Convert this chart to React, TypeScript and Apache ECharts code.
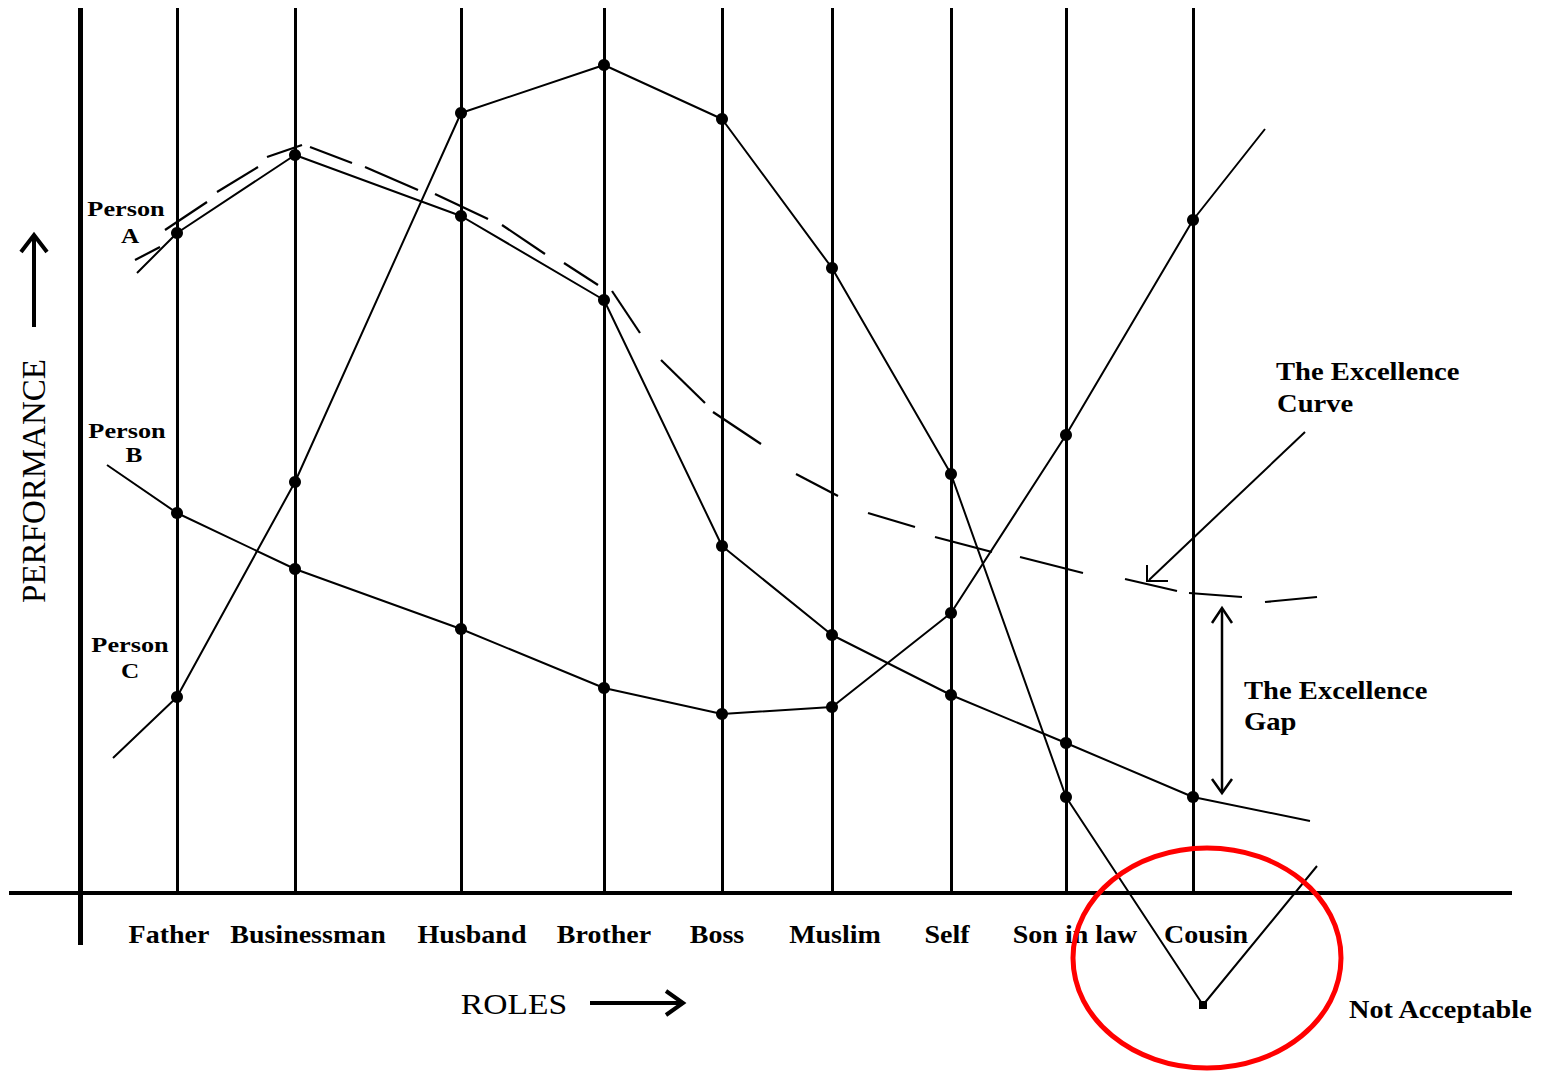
import React, { useEffect, useRef } from "react";
import * as echarts from "echarts";

// ---------------- DATA (x = role position, y = performance) ----------------
const roles = ["Father", "Businessman", "Husband", "Brother", "Boss", "Muslim", "Self", "Son in law", "Cousin"];
const roleX = [17.7, 29.5, 46.1, 60.4, 72.2, 83.2, 95.1, 106.6, 119.3];

const personA = [66.0, 73.8, 67.7, 59.3, 34.7, 25.8, 19.8, 15.0, 9.6];
const personAStart = [13.7, 62.0];
const personAEnd = [131.0, 7.2];

const personB = [38.0, 32.4, 26.4, 20.5, 17.9, 18.6, 28.0, 45.8, 67.3];
const personBStart = [10.7, 42.8];
const personBEnd = [126.5, 76.4];

const personC = [19.6, 41.1, 78.0, 82.8, 77.4, 62.5, 41.9, 9.6];
const personCStart = [11.3, 13.5];
const notAcceptablePoint = [120.3, -11.2];
const personCEnd = [131.7, 2.7];

// the hand-drawn dashes of "The Excellence Curve"
const excellenceDashes = [
  [[13.5, 63.3], [16.0, 64.6]],
  [[16.5, 66.3], [20.7, 69.1]],
  [[21.7, 70.1], [25.8, 72.6]],
  [[26.7, 73.6], [30.2, 74.8]],
  [[31.0, 74.6], [35.2, 73.0]],
  [[36.5, 72.6], [41.8, 70.3]],
  [[43.5, 69.9], [48.8, 67.4]],
  [[50.2, 66.8], [54.5, 63.9]],
  [[56.4, 63.0], [59.8, 60.8]],
  [[61.2, 60.2], [64.0, 56.0]],
  [[66.1, 53.3], [70.5, 49.0]],
  [[71.3, 48.1], [76.1, 44.9]],
  [[79.6, 41.9], [83.8, 39.7]],
  [[86.8, 38.0], [91.5, 36.6]],
  [[93.5, 35.6], [99.2, 34.1]],
  [[102.0, 33.6], [108.3, 32.0]],
  [[112.5, 31.4], [117.7, 30.2]],
  [[118.9, 30.0], [124.2, 29.6]],
  [[126.5, 29.1], [131.7, 29.6]],
];

// ---------------- LAYOUT ----------------
const W = 1543;
const H = 1073;
const X_MAX = 154.3;
const Y_MIN = -18.0;
const Y_MAX = 89.3;
const ROLE_TOP = 88.5;
const AXIS_X = 8.0;
const AXIS_BOTTOM = -5.2;
const BASE_START = 0.9;
const BASE_END = 151.2;
const labelNudge = [-8, 13, 11, 0, -5, 3, -4, 9, 13];

const px = (x: number) => (x / X_MAX) * W;

const FONT = '"Liberation Serif", "Times New Roman", serif';

function txt(text: string, x: number, y: number, size: number, bold: boolean, align: string, sx = 1, rot = 0) {
  return {
    type: "text",
    x,
    y,
    scaleX: sx,
    rotation: rot,
    silent: true,
    style: {
      text,
      font: `${bold ? "bold " : ""}${size}px ${FONT}`,
      fill: "#000",
      align,
      verticalAlign: "middle",
      textAlign: align,
      textVerticalAlign: "middle",
    },
  };
}

function poly(points: number[][], w: number) {
  return {
    type: "polyline",
    silent: true,
    shape: { points },
    style: { stroke: "#000", lineWidth: w, fill: "none", lineJoin: "miter", lineCap: "butt" },
  };
}

function personSeries(name: string, start: number[], vals: number[], tail: any[], end: number[]) {
  const data: any[] = [{ value: start, symbol: "none" }];
  vals.forEach((v, i) => data.push({ value: [roleX[i], v] }));
  tail.forEach((t) => data.push(t));
  data.push({ value: end, symbol: "none" });
  return {
    name,
    type: "line",
    data,
    symbol: "circle",
    symbolSize: 12,
    itemStyle: { color: "#000" },
    lineStyle: { color: "#000", width: 2 },
    z: 5,
    silent: true,
  };
}

export default function App() {
  const ref = useRef<HTMLDivElement>(null);

  useEffect(() => {
    if (!ref.current) return;
    const chart = echarts.init(ref.current, null, { renderer: "svg", width: W, height: H });

    const graphics: any[] = [
      // labels for the persons
      txt("Person", 126, 209, 21, true, "center", 1.25),
      txt("A", 130, 236, 21, true, "center", 1.2),
      txt("Person", 127, 431, 21, true, "center", 1.25),
      txt("B", 134, 455, 21, true, "center", 1.2),
      txt("Person", 130, 645, 21, true, "center", 1.25),
      txt("C", 130, 671, 21, true, "center", 1.2),
      // axis titles
      txt("PERFORMANCE", 34, 481, 33, false, "center", 1, Math.PI / 2),
      txt("ROLES", 514, 1004, 30, false, "center", 1.12),
      // annotations
      txt("The Excellence", 1276, 371, 26, true, "left", 1.1),
      txt("Curve", 1277, 403, 26, true, "left", 1.1),
      txt("The Excellence", 1244, 690, 26, true, "left", 1.1),
      txt("Gap", 1244, 721, 26, true, "left", 1.1),
      txt("Not Acceptable", 1349, 1010, 25, true, "left", 1.13),
      // arrows
      poly([[34, 327], [34, 238]], 4),
      poly([[21, 252], [34, 235], [47, 252]], 4),
      poly([[590, 1003], [681, 1003]], 4),
      poly([[666, 991], [683, 1003], [666, 1015]], 4),
      poly([[1305, 432], [1149, 580]], 2),
      poly([[1147, 565], [1147, 581], [1168, 581]], 2),
      poly([[1222, 609], [1222, 791]], 2.5),
      poly([[1212, 623], [1222, 608], [1232, 623]], 2.5),
      poly([[1212, 779], [1222, 793], [1232, 779]], 2.5),
      {
        type: "ellipse",
        silent: true,
        shape: { cx: 1207, cy: 958, rx: 134, ry: 110 },
        style: { fill: "none", stroke: "#ff0000", lineWidth: 5 },
        z: 100,
      },
    ];
    roles.forEach((r, i) => {
      graphics.push(txt(r, px(roleX[i]) + labelNudge[i], 935, 25, true, "center", 1.12));
    });

    const option: any = {
      animation: false,
      backgroundColor: "#ffffff",
      grid: { left: 0, right: 0, top: 0, bottom: 0, containLabel: false },
      xAxis: { type: "value", min: 0, max: X_MAX, show: false },
      yAxis: { type: "value", min: Y_MIN, max: Y_MAX, show: false },
      graphic: graphics,
      series: [
        {
          type: "lines",
          coordinateSystem: "cartesian2d",
          silent: true,
          lineStyle: { color: "#000", width: 3, opacity: 1 },
          data: roleX.map((x) => ({ coords: [[x, 0], [x, ROLE_TOP]] })),
          z: 2,
        },
        {
          type: "lines",
          coordinateSystem: "cartesian2d",
          silent: true,
          lineStyle: { color: "#000", width: 4, opacity: 1 },
          data: [{ coords: [[BASE_START, 0], [BASE_END, 0]] }],
          z: 3,
        },
        {
          type: "lines",
          coordinateSystem: "cartesian2d",
          silent: true,
          lineStyle: { color: "#000", width: 5, opacity: 1 },
          data: [{ coords: [[AXIS_X, ROLE_TOP], [AXIS_X, AXIS_BOTTOM]] }],
          z: 3,
        },
        {
          name: "The Excellence Curve",
          type: "lines",
          coordinateSystem: "cartesian2d",
          silent: true,
          lineStyle: { color: "#000", width: 2.2, opacity: 1 },
          data: excellenceDashes.map((d) => ({ coords: d })),
          z: 4,
        },
        personSeries("Person A", personAStart, personA, [], personAEnd),
        personSeries("Person B", personBStart, personB, [], personBEnd),
        personSeries(
          "Person C",
          personCStart,
          personC,
          [{ value: notAcceptablePoint, symbol: "rect", symbolSize: 8 }],
          personCEnd
        ),
      ],
    };

    chart.setOption(option);
    return () => chart.dispose();
  }, []);

  return (
    <div
      ref={ref}
      style={{ position: "fixed", left: 0, top: 0, width: W, height: H, background: "#fff" }}
    />
  );
}
